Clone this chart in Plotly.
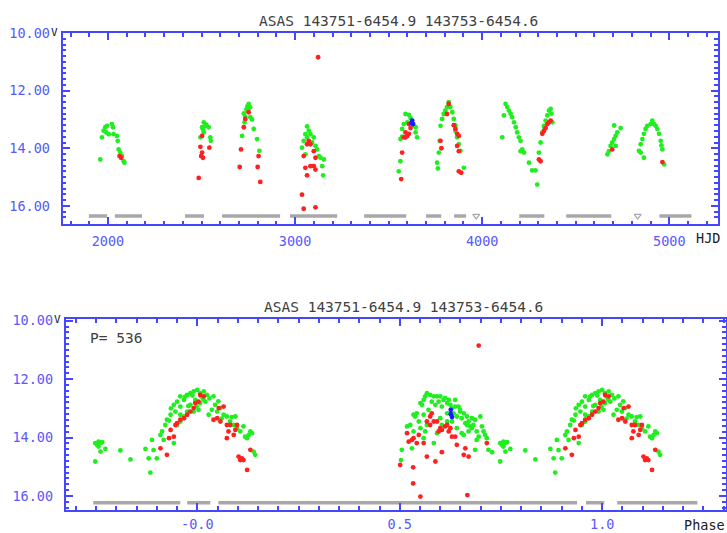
import plotly.graph_objects as go

# ---------------- top panel: light curve (HJD - 2450000, V mag) ----------------
hjd_green = [1959, 1968, 1977, 1986, 1995, 1991, 2004, 2021, 2027, 2030, 2048, 2052, 2057, 2066, 2075, 2084, 2088,
             2512, 2520, 2503, 2538, 2512, 2494, 2547, 2550, 2508, 2525,
             2752, 2745, 2760, 2740, 2752, 2726, 2734, 2761, 2770, 2779, 2717, 2797, 2809, 2730, 2748,
             3064, 3073, 3055, 3082, 3100, 3064, 3046, 3091, 3037, 3109, 3118, 3055, 3127, 3136, 3154, 3145, 3150,
             3590, 3608, 3600, 3581, 3617, 3626, 3644, 3644, 3652, 3572, 3563, 3572, 3563, 3554,
             3821, 3812, 3803, 3794, 3830, 3840, 3786, 3848, 3857, 3777, 3773, 3768, 3759, 3763, 3866, 3875, 3884, 3902, 3857,
             4125, 4134, 4116, 4143, 4152, 4160, 4170, 4179, 4187, 4196, 4205, 4107, 4214, 4223, 4205, 4250, 4267, 4285, 4294,
             4303, 4312, 4321, 4330, 4339, 4348, 4357, 4366, 4370, 4375, 4334,
             4669, 4677, 4686, 4695, 4705, 4713, 4722, 4705, 4740, 4713,
             4838, 4847, 4856, 4864, 4873, 4882, 4900, 4909, 4918, 4927, 4936, 4945, 4954, 4958, 4963, 4864, 4847, 4972]
mag_green = [14.39, 13.62, 13.39, 13.27, 13.22, 13.45, 13.51, 13.16, 13.27, 13.51, 13.57, 13.74, 14.04, 14.15, 14.27, 14.45, 14.50,
             13.10, 13.22, 13.27, 13.27, 13.45, 13.62, 13.62, 13.74, 13.35, 13.18,
             12.46, 12.55, 12.58, 12.65, 12.60, 12.79, 12.90, 12.92, 13.00, 13.33, 13.57, 13.68, 14.09, 13.10, 12.70,
             13.24, 13.39, 13.51, 13.51, 13.62, 13.62, 13.74, 13.80, 13.98, 13.92, 14.04, 14.21, 14.27, 14.33, 14.39, 14.62, 14.94,
             12.81, 12.84, 13.10, 13.16, 12.95, 13.20, 13.27, 13.45, 13.62, 13.33, 13.68, 13.60, 14.45, 14.80,
             12.40, 12.57, 12.69, 12.81, 12.57, 12.75, 12.98, 12.98, 13.21, 13.22, 13.74, 14.15, 14.50, 14.70, 13.62, 13.86, 14.09, 14.68, 13.40,
             12.46, 12.57, 12.86, 12.69, 12.80, 12.92, 13.10, 13.27, 13.45, 13.62, 13.74, 13.62, 14.04, 14.15, 14.10, 14.50, 14.77, 14.77, 15.26,
             14.15, 13.80, 13.45, 13.22, 13.04, 12.86, 12.69, 12.63, 12.80, 13.10, 13.30,
             14.21, 14.10, 13.92, 13.80, 13.68, 13.57, 13.45, 13.21, 13.30, 13.92,
             14.09, 13.86, 13.68, 13.50, 13.33, 13.22, 13.16, 13.04, 13.16, 13.22, 13.33, 13.50, 13.74, 13.90, 14.04, 14.33, 14.15, 14.56]

hjd_red = [2062, 2070,
           2503, 2494, 2503, 2498, 2508, 2542, 2485,
           2752, 2734, 2726, 2711, 2704, 2800, 2805, 2814,
           3073, 3064, 3082, 3100, 3109, 3046, 3055, 3082, 3100, 3109, 3064, 3037, 3046, 3109, 3123,
           3608, 3590, 3600, 3608, 3581, 3572, 3567, 3617, 3590,
           3821, 3812, 3848, 3857, 3866, 3875, 3777, 3782, 3866, 3875, 3875, 3888,
           4303, 4312, 4321, 4330, 4339, 4348, 4357, 4366,
           4695, 4963]
mag_red = [14.27, 14.33,
           13.57, 13.95, 14.15, 14.27, 14.33, 13.98, 15.03,
           12.75, 12.98, 13.27, 14.04, 14.65, 14.65, 14.27, 15.17,
           13.74, 13.86, 13.86, 14.10, 14.33, 14.27, 14.68, 14.62, 14.62, 14.74, 14.94, 15.61, 16.10, 16.05, 10.84,
           13.16, 13.45, 13.57, 13.50, 13.62, 14.15, 15.07, 13.30, 13.62,
           12.46, 12.81, 13.20, 13.33, 13.50, 13.57, 13.74, 14.00, 13.92, 14.10, 14.80, 14.85,
           14.39, 14.45, 13.50, 13.40, 13.30, 13.16, 13.10, 13.04,
           14.04, 14.48]

hjd_blue = [3626, 3631, 3622]
mag_blue = [13.04, 13.16, 13.12]

# upper-limit (non-detection) stretches, top panel
ul_top_start = [1898, 2037, 2412, 2610, 2973, 3369, 3700, 3850, 4198, 4449, 4947]
ul_top_end = [1995, 2182, 2513, 2920, 3225, 3594, 3781, 3914, 4332, 4690, 5118]
ul_top_single = [3968, 4831]
ul_top_mag = 16.35

# ---------------- bottom panel: folded light curve (phase in [0,1)) ----------------
period = 536
ph_green = [0.748, 0.752, 0.756, 0.761, 0.765, 0.756, 0.761, 0.773, 0.748, 0.810, 0.835, 0.872, 0.880, 0.884, 0.892,
            0.900, 0.888, 0.909, 0.913, 0.917, 0.921, 0.925, 0.934, 0.942, 0.946, 0.950, 0.958, 0.958, 0.967, 0.975,
            0.983, 0.991, 0.000, 0.007, 0.016, 0.024, 0.020, 0.007, 0.995, 0.983, 0.975, 0.967, 0.958, 0.950, 0.942,
            0.958, 0.040, 0.044, 0.049, 0.057, 0.065, 0.073, 0.081, 0.090, 0.094, 0.098, 0.106, 0.114, 0.118, 0.127,
            0.131, 0.135, 0.139, 0.143, 0.123, 0.036, 0.028, 0.003, 0.991,
            0.970, 0.988, 0.010, 0.030, 0.978, 0.998, 0.052, 0.935, 0.930, 0.015, 0.060, 0.085,
            0.505, 0.503, 0.518, 0.526, 0.534, 0.538, 0.542, 0.551, 0.555, 0.559, 0.563, 0.567, 0.575, 0.579, 0.584,
            0.588, 0.592, 0.596, 0.600, 0.604, 0.608, 0.612, 0.617, 0.621, 0.625, 0.629, 0.633, 0.637, 0.641, 0.645,
            0.649, 0.653, 0.658, 0.662, 0.666, 0.670, 0.674, 0.678, 0.682, 0.686, 0.690, 0.695, 0.699, 0.703, 0.707,
            0.711, 0.715, 0.719, 0.728, 0.571, 0.559, 0.547, 0.551, 0.567, 0.584, 0.592, 0.600, 0.604, 0.617, 0.629,
            0.641, 0.653, 0.658, 0.690, 0.559, 0.530, 0.534, 0.563, 0.617, 0.637, 0.649, 0.666, 0.678, 0.670, 0.686]
mg_green = [14.19, 14.25, 14.14, 14.19, 14.16, 14.31, 14.48, 14.39, 14.82, 14.44, 14.75, 14.39, 14.71, 15.20, 14.43,
            14.71, 14.08, 13.91, 13.79, 14.08, 13.57, 13.39, 13.22, 12.88, 13.11, 12.77, 12.94, 12.59, 12.71, 12.54,
            12.48, 12.42, 12.37, 12.48, 12.42, 12.54, 12.77, 12.82, 12.71, 12.88, 13.11, 13.28, 13.45, 13.57, 14.19,
            13.22, 12.59, 12.88, 13.11, 12.99, 13.22, 13.28, 13.45, 13.57, 13.28, 13.68, 13.79, 13.62, 13.97, 13.91,
            13.79, 13.85, 14.48, 14.59, 14.02, 13.05, 13.22, 13.05, 13.11,
            12.60, 12.56, 12.60, 12.66, 12.92, 12.93, 12.76, 13.00, 13.42, 12.70, 13.35, 13.30,
            14.42, 14.77, 13.62, 13.57, 13.22, 13.28, 13.17, 12.82, 12.88, 12.71, 12.59, 12.48, 12.54, 12.77, 12.59,
            12.88, 12.59, 12.77, 12.59, 12.94, 12.71, 12.65, 12.82, 12.71, 12.88, 12.99, 13.17, 12.94, 13.28, 12.94,
            13.11, 13.34, 13.17, 13.51, 13.28, 13.45, 13.62, 13.34, 13.57, 13.39, 13.79, 13.97, 13.28, 13.62, 13.79,
            13.91, 14.02, 14.42, 14.50, 13.05, 13.22, 13.45, 13.68, 13.57, 14.19, 13.85, 13.34, 13.57, 13.45, 13.45,
            13.68, 13.85, 13.91, 14.08, 14.02, 14.37, 13.79, 13.79, 13.17, 12.71, 13.05, 13.57, 13.68, 13.79, 14.42]

ph_red = [0.909, 0.925, 0.930, 0.934, 0.942, 0.946, 0.950, 0.958, 0.967, 0.975, 0.983, 0.991, 0.995, 0.003, 0.007,
          0.016, 0.040, 0.049, 0.057, 0.073, 0.077, 0.081, 0.090, 0.094, 0.098, 0.102, 0.106, 0.110, 0.114, 0.123,
          0.131, 0.073, 0.065, 0.053,
          0.518, 0.522, 0.530, 0.534, 0.542, 0.547, 0.559, 0.501, 0.533, 0.533, 0.551, 0.575, 0.579, 0.584, 0.596,
          0.600, 0.592, 0.604, 0.612, 0.621, 0.629, 0.637, 0.641, 0.658, 0.670, 0.662, 0.667, 0.567, 0.588, 0.604,
          0.625, 0.617, 0.575, 0.567, 0.715, 0.695]
mg_red = [14.37, 14.59, 14.02, 13.74, 13.97, 13.57, 13.51, 13.39, 13.34, 13.22, 13.11, 12.99, 12.82, 12.77, 12.54,
          12.59, 13.39, 13.34, 13.45, 13.57, 13.79, 13.57, 13.91, 13.74, 13.57, 14.65, 14.77, 14.71, 14.77, 15.11,
          14.42, 14.02, 12.94, 12.99,
          13.85, 14.14, 14.08, 14.02, 14.19, 13.91, 14.19, 14.94, 15.02, 15.57, 16.02, 13.57, 13.17, 13.45, 13.79,
          13.68, 13.45, 13.74, 13.62, 13.79, 13.97, 13.97, 14.25, 14.59, 14.65, 14.37, 15.97, 14.65, 14.82, 14.50,
          13.68, 13.57, 13.28, 13.45, 14.19, 10.85]

ph_blue = [0.626, 0.626, 0.629]
mg_blue = [13.05, 13.20, 13.30]

# upper-limit stretches, bottom panel (as displayed)
ul_bot_start = [-0.257, -0.025, 0.052, 0.960, 1.037]
ul_bot_end = [-0.042, 0.032, 0.938, 1.005, 1.235]
ul_bot_mag = 16.23

PH_LO, PH_HI = -0.26, 1.25


def fold(ph, mg):
    xs, ys = [], []
    for p, m in zip(ph, mg):
        for k in (-1, 0, 1):
            q = p + k
            if PH_LO <= q <= PH_HI:
                xs.append(q)
                ys.append(m)
    return xs, ys


def spans(starts, ends, level):
    xs, ys = [], []
    for a, b in zip(starts, ends):
        xs += [a, b, None]
        ys += [level, level, None]
    return xs, ys


GREEN = '#1fee1f'
RED = '#ff2020'
BLUEPT = '#1a1aff'
GRAY = '#a8a8a8'
AXC = '#4646ff'
LBL = '#5858ff'
MS = 4.8

fig = go.Figure()

# top panel
sx, sy = spans(ul_top_start, ul_top_end, ul_top_mag)
fig.add_trace(go.Scatter(x=sx, y=sy, mode='lines', line=dict(color=GRAY, width=3.5),
                         xaxis='x', yaxis='y', hoverinfo='skip'))
fig.add_trace(go.Scatter(x=ul_top_single, y=[ul_top_mag] * len(ul_top_single), mode='markers',
                         marker=dict(symbol='triangle-down-open', size=6, color=GRAY, line=dict(width=1.2)),
                         xaxis='x', yaxis='y'))
fig.add_trace(go.Scatter(x=hjd_green, y=mag_green, mode='markers', marker=dict(color=GREEN, size=MS),
                         xaxis='x', yaxis='y'))
fig.add_trace(go.Scatter(x=hjd_red, y=mag_red, mode='markers', marker=dict(color=RED, size=MS),
                         xaxis='x', yaxis='y'))
fig.add_trace(go.Scatter(x=hjd_blue, y=mag_blue, mode='markers', marker=dict(color=BLUEPT, size=MS),
                         xaxis='x', yaxis='y'))

# bottom panel
bx, by = spans(ul_bot_start, ul_bot_end, ul_bot_mag)
fig.add_trace(go.Scatter(x=bx, y=by, mode='lines', line=dict(color=GRAY, width=3.5),
                         xaxis='x2', yaxis='y2', hoverinfo='skip'))
gx, gy = fold(ph_green, mg_green)
rx, ry = fold(ph_red, mg_red)
blx, bly = fold(ph_blue, mg_blue)
fig.add_trace(go.Scatter(x=gx, y=gy, mode='markers', marker=dict(color=GREEN, size=MS),
                         xaxis='x2', yaxis='y2'))
fig.add_trace(go.Scatter(x=rx, y=ry, mode='markers', marker=dict(color=RED, size=MS),
                         xaxis='x2', yaxis='y2'))
fig.add_trace(go.Scatter(x=blx, y=bly, mode='markers', marker=dict(color=BLUEPT, size=MS),
                         xaxis='x2', yaxis='y2'))

font_tick = dict(family='DejaVu Sans Mono', size=13.5, color=LBL)
common = dict(showline=True, linecolor=AXC, linewidth=2, mirror='ticks', ticks='inside',
              tickcolor=AXC, tickwidth=1.5, ticklen=7, showgrid=False, zeroline=False,
              tickfont=font_tick, automargin=False)

fig.update_layout(
    width=727, height=533, margin=dict(l=0, r=0, t=0, b=0, pad=0, autoexpand=False),
    paper_bgcolor='white', plot_bgcolor='white', showlegend=False,
    xaxis=dict(common, domain=[0.0862, 0.9876], anchor='y', range=[1758, 5260],
               tick0=2000, dtick=1000, ticklabelstandoff=4,
               minor=dict(ticks='inside', dtick=100, ticklen=3.5, tickcolor=AXC, tickwidth=1.5)),
    yaxis=dict(common, domain=[0.5797, 0.9380], anchor='x', range=[16.63, 10.0],
               tick0=10, dtick=2, tickformat='.2f', ticklabelstandoff=8,
               minor=dict(ticks='inside', dtick=0.2, ticklen=3.5, tickcolor=AXC, tickwidth=1.5)),
    xaxis2=dict(common, domain=[0.0904, 0.9982], anchor='y2', range=[-0.325, 1.305],
                tick0=0, dtick=0.5, tickformat='.1f', labelalias={'0.0': '-0.0'},
                ticklabelstandoff=1,
                minor=dict(ticks='inside', dtick=0.05, ticklen=3.5, tickcolor=AXC, tickwidth=1.5)),
    yaxis2=dict(common, domain=[0.0432, 0.4010], anchor='x2', range=[16.48, 9.95],
                tick0=10, dtick=2, tickformat='.2f', ticklabelstandoff=8,
                minor=dict(ticks='inside', dtick=0.2, ticklen=3.5, tickcolor=AXC, tickwidth=1.5)),
)

title_font = dict(family='DejaVu Sans Mono', size=14.5, color='#404040')
ann = [
    dict(text='ASAS 143751-6454.9 143753-6454.6', x=398.5 / 727, y=1 - 20.7 / 533, xref='paper', yref='paper',
         showarrow=False, font=title_font, xanchor='center', yanchor='middle'),
    dict(text='ASAS 143751-6454.9 143753-6454.6', x=403 / 727, y=1 - 306.7 / 533, xref='paper', yref='paper',
         showarrow=False, font=title_font, xanchor='center', yanchor='middle'),
    dict(text='P= %d' % period, x=88 / 727, y=1 - 338 / 533, xref='paper', yref='paper',
         showarrow=False, font=title_font, xanchor='left', yanchor='middle'),
    dict(text='HJD', x=722 / 727, y=1 - 238 / 533, xref='paper', yref='paper',
         showarrow=False, font=dict(family='DejaVu Sans Mono', size=13.5, color='#202020'),
         xanchor='right', yanchor='middle'),
    dict(text='Phase', x=727 / 727, y=1 - 525 / 533, xref='paper', yref='paper',
         showarrow=False, font=dict(family='DejaVu Sans Mono', size=13.5, color='#202020'),
         xanchor='right', yanchor='middle'),
    dict(text='V', x=54 / 727, y=1 - 33 / 533, xref='paper', yref='paper',
         showarrow=False, font=dict(family='DejaVu Sans Mono', size=11, color='#202040'),
         xanchor='center', yanchor='middle'),
    dict(text='V', x=57 / 727, y=1 - 319 / 533, xref='paper', yref='paper',
         showarrow=False, font=dict(family='DejaVu Sans Mono', size=11, color='#202040'),
         xanchor='center', yanchor='middle'),
]
fig.update_layout(annotations=ann)

fig.write_html('out.html', config={'displayModeBar': False},
               post_script="document.body.style.margin='0';document.body.style.overflow='hidden';")
